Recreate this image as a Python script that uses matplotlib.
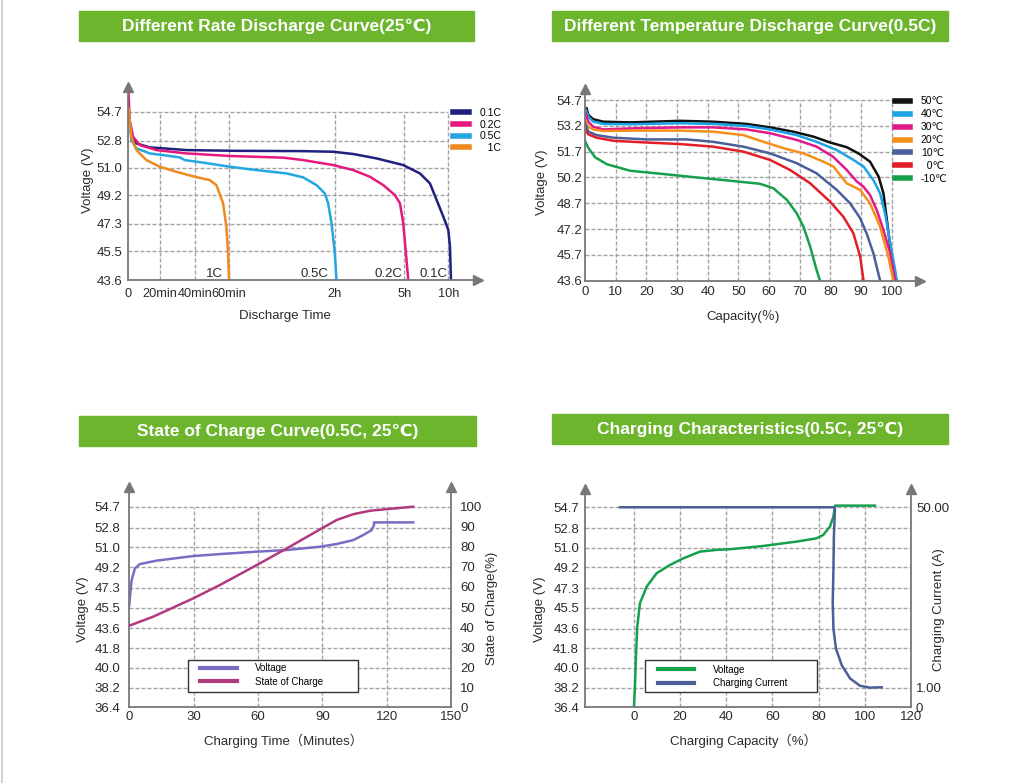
import numpy as np
import matplotlib.pyplot as plt
from matplotlib.patches import Rectangle
from matplotlib.lines import Line2D
from matplotlib.collections import LineCollection

plt.rcParams['font.family'] = ['Liberation Sans', 'DejaVu Sans', 'Noto Sans CJK SC']

# ---------------- data ----------------
titles = ['Different Rate Discharge Curve(25℃)',
          'Different Temperature Discharge Curve(0.5C)',
          'State of Charge Curve(0.5C, 25℃)',
          'Charging Characteristics(0.5C, 25℃)']

# panel 1: discharge at different rates (time in minutes, voltage)
rate_names = ['0.1C', '0.2C', '0.5C', '1C']
t_01c = [0.3, 2.1, 5.3, 13.7, 35.2, 64.2, 102.0, 119.1, 167.6, 228.2, 297.4,
         406.8, 475, 520.5, 565.9, 600, 611.4, 618.2]
v_01c = [54.59, 53.16, 52.61, 52.35, 52.17, 52.12, 52.10, 52.06, 51.91, 51.62,
         51.18, 50.63, 49.97, 48.88, 47.78, 46.9, 45.8, 43.6]
t_02c = [0.3, 1.05, 3.2, 7.4, 17.9, 35.2, 60.4, 90.7, 102.0, 119.1, 167.6,
         210.9, 245.5, 275.8, 288.8, 297.4, 311.4, 327.3]
v_02c = [56.02, 54.15, 53.05, 52.5, 52.17, 51.95, 51.78, 51.67, 51.51, 51.18,
         50.85, 50.41, 49.86, 49.2, 48.66, 47.34, 45.36, 43.6]
t_05c = [0.3, 2.1, 5.3, 13.7, 25.7, 31.4, 34.3, 44.9, 60.4, 75.5, 92.6, 102.0,
         109.6, 114.3, 116.2, 118.1, 120.0, 124.3]
v_05c = [54.81, 52.83, 52.28, 51.95, 51.78, 51.69, 51.51, 51.34, 51.07, 50.85,
         50.63, 50.37, 49.86, 49.31, 48.66, 47.34, 45.36, 43.6]
t_1c = [0.3, 2.1, 5.3, 11.6, 20, 29.5, 40, 48.7, 52.6, 56.5, 58.4, 59.4, 60.0]
v_1c = [54.92, 53.05, 52.17, 51.51, 51.07, 50.74, 50.41, 50.19, 49.86, 48.66,
        47.12, 45.36, 43.6]
rate_tag_t = [497.7, 258.5, 108.6, 51.7]
rate_ticks = [0, 20, 40, 60, 120, 300, 600]
rate_ticklabels = ['0', '20min', '40min', '60min', '2h', '5h', '10h']
v1_ticks = [43.6, 45.5, 47.3, 49.2, 51.0, 52.8, 54.7]

# panel 2: discharge at different temperatures (capacity %, voltage)
temp_names = ['50℃', '40℃', '30℃', '20℃', '10℃', '  0℃', '-10℃']
cap_50 = [0.5, 1.1, 2.7, 6.0, 14.7, 31.0, 41.8, 52.7, 60.3, 67.9, 74.5, 79.9,
          85.3, 89.1, 92.9, 95.7, 97.3, 98.4, 99.5, 100.5, 101.6]
v_50 = [54.22, 53.83, 53.58, 53.44, 53.40, 53.49, 53.44, 53.31, 53.11, 52.86,
        52.57, 52.23, 51.96, 51.60, 51.12, 50.25, 49.27, 47.73, 46.18, 44.46, 43.6]
cap_40 = [0.3, 1.1, 2.7, 6.0, 14.7, 31.0, 41.8, 52.7, 60.3, 69.0, 75.5, 82.1,
          87.5, 90.8, 94.0, 96.2, 97.8, 99.5, 101.1, 101.6]
v_40 = [54.12, 53.73, 53.44, 53.31, 53.29, 53.35, 53.31, 53.19, 52.99, 52.66,
        52.27, 51.79, 51.22, 50.83, 50.05, 49.27, 48.12, 46.38, 44.46, 43.6]
cap_30 = [0, 1.1, 2.7, 6.0, 14.7, 31.0, 41.8, 52.7, 60.3, 69.0, 75.5, 80.9,
          85.3, 88.6, 90.8, 92.9, 95.1, 97.3, 99.5, 101.1]
v_30 = [54.03, 53.44, 53.14, 52.99, 53.05, 53.11, 53.11, 52.99, 52.77, 52.38,
        51.99, 51.40, 50.64, 49.96, 49.66, 49.18, 48.31, 47.14, 45.79, 43.6]
cap_20 = [0, 1.1, 2.7, 6.0, 14.7, 31.0, 41.8, 51.6, 58.2, 64.7, 71.2, 77.7,
          81.0, 85.3, 89.7, 92.9, 96.2, 98.9, 100.5]
v_20 = [53.53, 53.14, 52.99, 52.90, 52.92, 52.92, 52.86, 52.66, 52.27, 51.90,
        51.60, 51.12, 50.83, 49.86, 49.47, 48.70, 47.34, 45.55, 43.6]
cap_10 = [0, 1.1, 3.8, 9.2, 20.1, 33.2, 41.8, 51.6, 60.3, 69.0, 75.5, 82.1,
          86.4, 89.7, 91.8, 94.0, 96.2]
v_10 = [53.35, 52.86, 52.66, 52.51, 52.41, 52.41, 52.27, 51.99, 51.60, 51.03,
        50.44, 49.47, 48.70, 47.83, 46.95, 45.79, 43.6]
cap_0 = [0, 1.1, 3.8, 9.2, 20.1, 31.0, 41.8, 51.6, 60.3, 66.8, 73.4, 79.9,
         84.2, 87.5, 89.7, 90.8]
v_0 = [52.99, 52.70, 52.51, 52.33, 52.23, 52.14, 51.99, 51.70, 51.22, 50.64,
       49.86, 48.79, 47.92, 46.95, 45.55, 43.6]
cap_m10 = [0, 1.1, 3.3, 7.1, 14.7, 25.5, 36.4, 47.3, 57.1, 61.4, 65.8, 69.0,
           71.2, 73.4, 75.5, 76.6]
v_m10 = [52.32, 51.91, 51.37, 50.97, 50.59, 50.40, 50.20, 50.01, 49.83, 49.57,
         48.90, 48.12, 47.34, 46.18, 44.46, 43.6]
cap_ticks = [0, 10, 20, 30, 40, 50, 60, 70, 80, 90, 100]
v2_ticks = [43.6, 45.7, 47.2, 48.7, 50.2, 51.7, 53.2, 54.7]

# panel 3: state of charge (minutes)
t_chg_v = [0, 0.31, 1.09, 2.64, 4.97, 12.7, 29.8, 42.3, 59.4, 73.4, 88.9, 96.7,
           104.5, 109.1, 113.0, 114.1, 114.1, 120.0, 132.4]
v_chg = [45.73, 46.49, 48.01, 49.08, 49.47, 49.78, 50.20, 50.38, 50.60, 50.75,
         51.05, 51.30, 51.66, 52.12, 52.57, 53.03, 53.27, 53.27, 53.27]
t_soc = [0, 11.2, 29.8, 42.3, 59.4, 73.4, 88.9, 96.7, 104.5, 112.3, 120.0, 132.4]
soc = [40.7, 45.2, 54.3, 61.0, 70.9, 79.2, 88.7, 93.4, 96.3, 98.0, 98.8, 100.0]
time_ticks = [0, 30, 60, 90, 120, 150]
v34_ticks = [36.4, 38.2, 40.0, 41.8, 43.6, 45.5, 47.3, 49.2, 51.0, 52.8, 54.7]
soc_ticks = [0, 10, 20, 30, 40, 50, 60, 70, 80, 90, 100]

# panel 4: charging characteristics (capacity %)
cap_cv = [0, 0.43, 0.87, 1.44, 2.6, 5.5, 9.8, 15.6, 21.4, 28.6, 35.8, 41.6,
          56.0, 70.5, 79.1, 82.0, 84.9, 86.4, 87.1, 93.6, 104.4]
v_cv = [36.4, 38.29, 41.04, 43.78, 45.92, 47.44, 48.66, 49.42, 50.03, 50.64,
        50.80, 50.86, 51.16, 51.56, 51.86, 52.17, 52.93, 53.85, 54.85, 54.85, 54.85]
cap_ci = [-6.1, 87.1, 86.6, 86.4, 86.1, 86.4, 87.5, 90.0, 93.6, 97.9, 102.2, 107.3]
i_c = [50, 50, 42.1, 33.1, 24.2, 17.0, 11.6, 7.1, 3.5, 1.5, 1.0, 1.1]
chg_cap_ticks = [0, 20, 40, 60, 80, 100, 120]
i_ticks = [0, 1, 50]
i_ticklabels = ['0', '1.00', '50.00']

# ---------------- style ----------------
W, H = 1024, 783
AXC = '#777777'
GRIDC = '#a2a2a2'
TXT = '#2b2b2b'
GREEN = '#6cb52d'

fig = plt.figure(figsize=(W / 100, H / 100), dpi=100)
fig.add_artist(Line2D([1.5 / W, 1.5 / W], [0, 1], color='#d4d4d4', lw=1.5))


def px_axes(l, t, r, b):
    return fig.add_axes([l / W, 1 - b / H, (r - l) / W, (b - t) / H])


def style(ax, xarrow=True):
    ax.spines['top'].set_visible(False)
    ax.spines['right'].set_visible(False)
    for s in ('left', 'bottom'):
        ax.spines[s].set_color(AXC)
        ax.spines[s].set_linewidth(1.3)
    ax.tick_params(length=0, labelsize=9.5, labelcolor=TXT)
    ax.plot(0, 1, '^', ms=7, color=AXC, transform=ax.transAxes, clip_on=False)
    if xarrow:
        ax.plot(1, 0, '>', ms=7, color=AXC, transform=ax.transAxes, clip_on=False)


def style_right(ax):
    for s in ('top', 'left', 'bottom'):
        ax.spines[s].set_visible(False)
    ax.spines['right'].set_color(AXC)
    ax.spines['right'].set_linewidth(1.3)
    ax.tick_params(length=0, labelsize=9.5, labelcolor=TXT)
    ax.plot(1, 1, '^', ms=7, color=AXC, transform=ax.transAxes, clip_on=False)


def dashes(a0, a1, step):
    starts = np.arange(a0, a1, step)
    return [(s, min(s + 4.0 * step / 6.0, a1)) for s in starts]


def grid(ax, xs, x0, x1, ys, y0, y1):
    # call after limits are set; dashes are built as short segments
    to_axes = ax.transData + ax.transAxes.inverted()
    pos = ax.get_position()
    ax0, ay0 = to_axes.transform((x0, y0))
    ax1_, ay1 = to_axes.transform((x1, y1))
    segs = []
    for y in ys:
        segs += [[(s, y), (e, y)] for s, e in dashes(ax0, ax1_, 6.0 / (pos.width * W))]
    ax.add_collection(LineCollection(segs, colors=GRIDC, linewidths=1.0, zorder=1,
                                     transform=ax.get_yaxis_transform()))
    segs = []
    for x in xs:
        segs += [[(x, s), (x, e)] for s, e in dashes(ay0, ay1, 6.0 / (pos.height * H))]
    ax.add_collection(LineCollection(segs, colors=GRIDC, linewidths=1.0, zorder=1,
                                     transform=ax.get_xaxis_transform()))


def ftext(x, y, s, **kw):
    fig.text(x / W, 1 - y / H, s, ha='center', va='center', color=TXT, **kw)


def boxed_legend(ax, handles, rect, anchor, hl, htp):
    ax.add_patch(Rectangle(rect[:2], rect[2], rect[3], transform=ax.transAxes,
                           facecolor='white', edgecolor='#333333', lw=1, zorder=3))
    leg = ax.legend(handles=handles, loc='upper left', bbox_to_anchor=anchor,
                    frameon=False, fontsize=7, handlelength=hl, handletextpad=htp,
                    labelspacing=0.35, borderpad=0, borderaxespad=0)
    leg.set_zorder(5)
    for ln in leg.get_lines():
        ln.set_linewidth(3)
    return leg


# title bars
title_boxes = [(79, 11, 474, 41), (552, 11, 948, 41), (79, 416, 476, 446), (552, 414, 948, 444)]
for (l, t, r, b), title in zip(title_boxes, titles):
    fig.add_artist(Rectangle((l / W, 1 - b / H), (r - l) / W, (b - t) / H,
                             transform=fig.transFigure, color=GREEN, zorder=0))
    fig.text((l + r) / 2 / W, 1 - (t + b) / 2 / H, title, ha='center', va='center',
             color='white', fontsize=12.5, fontweight='bold')

# ---------------- panel 1 ----------------
t_knots = [0, 20, 40, 60, 120, 300, 600, 1200]
p_knots = [0, 95, 200, 303, 620, 828, 960, 1224]
ax1 = px_axes(128, 87, 478, 280)
ax1.set_xscale('function', functions=(lambda t: np.interp(t, t_knots, p_knots),
                                      lambda p: np.interp(p, p_knots, t_knots)))
style(ax1)
rate_colors = ['#1f2080', '#e5197d', '#22a7e3', '#f0891e']
rate_lines = []
for tt, vv, c, n in zip([t_01c, t_02c, t_05c, t_1c], [v_01c, v_02c, v_05c, v_1c],
                        rate_colors, rate_names):
    rate_lines += ax1.plot(tt, vv, color=c, lw=1.8, zorder=2)
for tx, n in zip(rate_tag_t, rate_names):
    ax1.text(tx, 44.0, n, ha='center', va='center', fontsize=9.5, color=TXT)
ax1.set_xlim(0, np.interp(1049, p_knots, t_knots))
ax1.set_ylim(43.6, 56.33)
grid(ax1, rate_ticks[1:], 0, 600, v1_ticks[1:], 43.6, 54.7)
ax1.set_xticks(rate_ticks, rate_ticklabels)
ax1.set_yticks(v1_ticks, [f'{v:.1f}' for v in v1_ticks])
ax1.tick_params(axis='y', pad=4.3)
ax1.tick_params(axis='x', pad=5.4, labelsize=9.2)
leg1 = ax1.legend(rate_lines, ['0.1C', '0.2C', '0.5C', '   1C'], loc='upper left',
                  bbox_to_anchor=(0.929, 0.891), frameon=False, fontsize=7.5,
                  handlelength=1.5, handletextpad=1.0, labelspacing=0.15,
                  borderpad=0, borderaxespad=0)
for ln in leg1.get_lines():
    ln.set_linewidth(4)
ftext(88, 180, 'Voltage (V)', rotation=90, fontsize=9.5)
ftext(285, 316, 'Discharge Time', fontsize=9.5)

# ---------------- panel 2 ----------------
v_knots = v2_ticks + [57.7]
i_knots = list(range(8)) + [9]
ax2 = px_axes(585, 89, 920, 280.7)
ax2.set_yscale('function', functions=(lambda v: np.interp(v, v_knots, i_knots),
                                      lambda i: np.interp(i, i_knots, v_knots)))
style(ax2)
temp_colors = ['#111111', '#1ba3e6', '#e2198a', '#f39019', '#4b5f9b', '#e41e26', '#17a04b']
temp_caps = [cap_50, cap_40, cap_30, cap_20, cap_10, cap_0, cap_m10]
temp_vs = [v_50, v_40, v_30, v_20, v_10, v_0, v_m10]
temp_lines = []
for cc, vv, c in zip(temp_caps, temp_vs, temp_colors):
    temp_lines += ax2.plot(cc, vv, color=c, lw=1.8, zorder=2)
ax2.set_xlim(0, 109.2)
ax2.set_ylim(43.6, 55.34)
grid(ax2, cap_ticks[1:], 0, 100, v2_ticks[1:], 43.6, 54.7)
ax2.set_xticks(cap_ticks)
ax2.set_yticks(v2_ticks, [f'{v:.1f}' for v in v2_ticks])
ax2.tick_params(axis='y', pad=2)
ax2.tick_params(axis='x', pad=4)
leg2 = ax2.legend(temp_lines, temp_names, loc='upper left',
                  bbox_to_anchor=(0.926, 0.961), frameon=False,
                  fontsize=7.5, handlelength=1.45, handletextpad=1.0,
                  labelspacing=0.28, borderpad=0, borderaxespad=0)
for ln in leg2.get_lines():
    ln.set_linewidth(4)
ftext(541.7, 182, 'Voltage (V)', rotation=90, fontsize=9.5)
ftext(743, 316.7, 'Capacity(％)', fontsize=9.5)

# ---------------- panel 3 ----------------
ax3 = px_axes(129.3, 487, 451, 707.3)
style(ax3, xarrow=False)
h3v, = ax3.plot(t_chg_v, v_chg, color='#7a6cc4', lw=1.8, label='Voltage', zorder=2)
ax3.set_xlim(0, 150)
ax3.set_ylim(36.4, 56.5)
grid(ax3, time_ticks[1:-1], 0, 150, v34_ticks[1:], 36.4, 54.7)
ax3.set_xticks(time_ticks)
ax3.set_yticks(v34_ticks, [f'{v:.1f}' for v in v34_ticks])
ax3.tick_params(axis='y', pad=6.5)
ax3.tick_params(axis='x', pad=3)
ax3r = ax3.twinx()
style_right(ax3r)
h3s, = ax3r.plot(t_soc, soc, color='#b1397e', lw=1.8, label='State of Charge', zorder=2)
ax3r.set_ylim(0, (56.5 - 36.4) / 18.3 * 100)
ax3r.set_yticks(soc_ticks)
ax3r.tick_params(axis='y', pad=6.5)
boxed_legend(ax3, [h3v, h3s], (0.1825, 0.0695, 0.528, 0.145), (0.22, 0.199), 3.8, 1.85)
ftext(83.3, 609, 'Voltage (V)', rotation=90, fontsize=9.5)
ftext(491.7, 608, 'State of Charge(%)', rotation=90, fontsize=9.5)
ftext(283, 740.7, 'Charging Time（Minutes）', fontsize=9.5)

# ---------------- panel 4 ----------------
cur_knots = [0, 1, 50, 100]
pos_knots = [36.4, 38.2, 54.7, 54.7 + 50 * 16.5 / 49]
ax4 = px_axes(585, 489, 911, 707.3)
style(ax4, xarrow=False)
h4v, = ax4.plot(cap_cv, v_cv, color='#17a04b', lw=1.8, label='Voltage', zorder=2)
ax4.set_xlim(-21.2, 120)
ax4.set_ylim(36.4, 56.37)
grid(ax4, chg_cap_ticks[:-1], -21.2, 120, v34_ticks[1:], 36.4, 54.7)
ax4.set_xticks(chg_cap_ticks)
ax4.set_yticks(v34_ticks, [f'{v:.1f}' for v in v34_ticks])
ax4.tick_params(axis='y', pad=4.3)
ax4.tick_params(axis='x', pad=3)
ax4r = ax4.twinx()
ax4r.set_yscale('function', functions=(lambda i: np.interp(i, cur_knots, pos_knots),
                                       lambda p: np.interp(p, pos_knots, cur_knots)))
style_right(ax4r)
h4c, = ax4r.plot(cap_ci, i_c, color='#4b5e97', lw=1.8, label='Charging Current', zorder=2)
ax4r.set_ylim(0, np.interp(56.37, pos_knots, cur_knots))
ax4r.set_yticks(i_ticks, i_ticklabels)
ax4r.tick_params(axis='y', pad=3.6)
boxed_legend(ax4, [h4v, h4c], (0.184, 0.070, 0.528, 0.1466), (0.224, 0.196), 3.7, 1.95)
ftext(540, 609, 'Voltage (V)', rotation=90, fontsize=9.5)
ftext(939, 610, 'Charging Current (A)', rotation=90, fontsize=9.5)
ftext(743, 740.7, 'Charging Capacity（%）', fontsize=9.5)

fig.savefig('out.png', dpi=100)
